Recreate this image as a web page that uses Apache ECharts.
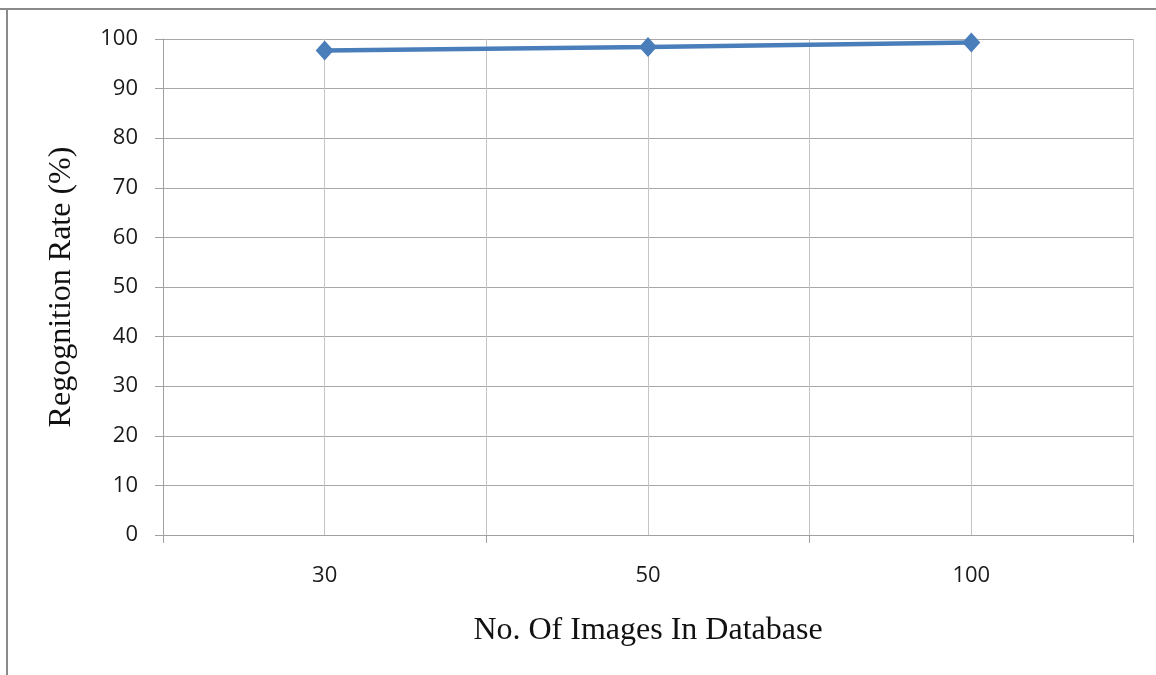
<!DOCTYPE html>
<html>
<head>
<meta charset="utf-8">
<script src="https://cdn.jsdelivr.net/npm/echarts@6/dist/echarts.min.js"></script>
<style>
  html, body { margin: 0; padding: 0; background: #fff; }
  #chart { width: 1156px; height: 675px; }
</style>
</head>
<body>
<div id="chart"></div>
<script>
// Database sizes and the recognition rate measured at each
const categories = ['30', '50', '100'];
const recognitionRate = [97.7, 98.4, 99.3];
const yTicks = { min: 0, max: 100, step: 10 };

const xTitle = 'No. Of Images In Database';
const yTitle = 'Regognition Rate (%)';

const chart = echarts.init(document.getElementById('chart'), null, { renderer: 'canvas' });

const labelFont = { fontFamily: '"Open Sans", "Noto Sans", sans-serif', fontSize: 22, color: '#1a1a1a' };
const serif = '"Liberation Serif", "DejaVu Serif", serif';

chart.setOption({
  animation: false,
  backgroundColor: '#fff',
  graphic: [
    { type: 'line', shape: { x1: 0, y1: 9, x2: 1156, y2: 9 }, style: { stroke: '#8a8a8a', lineWidth: 2 } },
    { type: 'line', shape: { x1: 7, y1: 9, x2: 7, y2: 675 }, style: { stroke: '#8a8a8a', lineWidth: 2 } }
  ],
  grid: { left: 163, right: 23, top: 39, bottom: 140, containLabel: false },
  xAxis: [
    {
      type: 'category',
      data: categories,
      boundaryGap: true,
      axisLine: { show: true, lineStyle: { color: '#a0a0a0', width: 1 } },
      axisTick: { show: true, interval: 0, length: 8, lineStyle: { color: '#a0a0a0' } },
      axisLabel: Object.assign({ margin: 30, interval: 0 }, labelFont),
      splitLine: { show: false },
      name: xTitle,
      nameLocation: 'middle',
      nameGap: 80,
      nameTextStyle: { fontFamily: serif, fontSize: 32, color: '#111' }
    },
    {
      // half-category grid for the vertical gridlines
      type: 'value',
      min: 0, max: 6, interval: 1,
      position: 'bottom',
      axisLine: { show: false },
      axisTick: { show: false },
      axisLabel: { show: false },
      splitLine: { show: true, lineStyle: { color: '#c4c4c4', width: 1 } }
    }
  ],
  yAxis: {
    type: 'value',
    min: yTicks.min,
    max: yTicks.max,
    interval: yTicks.step,
    axisLine: { show: true, lineStyle: { color: '#a0a0a0', width: 1 } },
    axisTick: { show: true, length: 8, lineStyle: { color: '#a0a0a0' } },
    axisLabel: Object.assign({ margin: 25 }, labelFont),
    splitLine: { show: true, lineStyle: { color: '#a8a8a8', width: 1 } },
    name: yTitle,
    nameLocation: 'middle',
    nameGap: 85,
    nameTextStyle: { fontFamily: serif, fontSize: 32, color: '#111' }
  },
  series: [
    {
      type: 'line',
      xAxisIndex: 0,
      data: recognitionRate,
      symbol: 'diamond',
      symbolSize: [18, 20],
      lineStyle: { color: '#4a7ebb', width: 4.5 },
      itemStyle: { color: '#4a7ebb' }
    }
  ]
});
</script>
</body>
</html>
